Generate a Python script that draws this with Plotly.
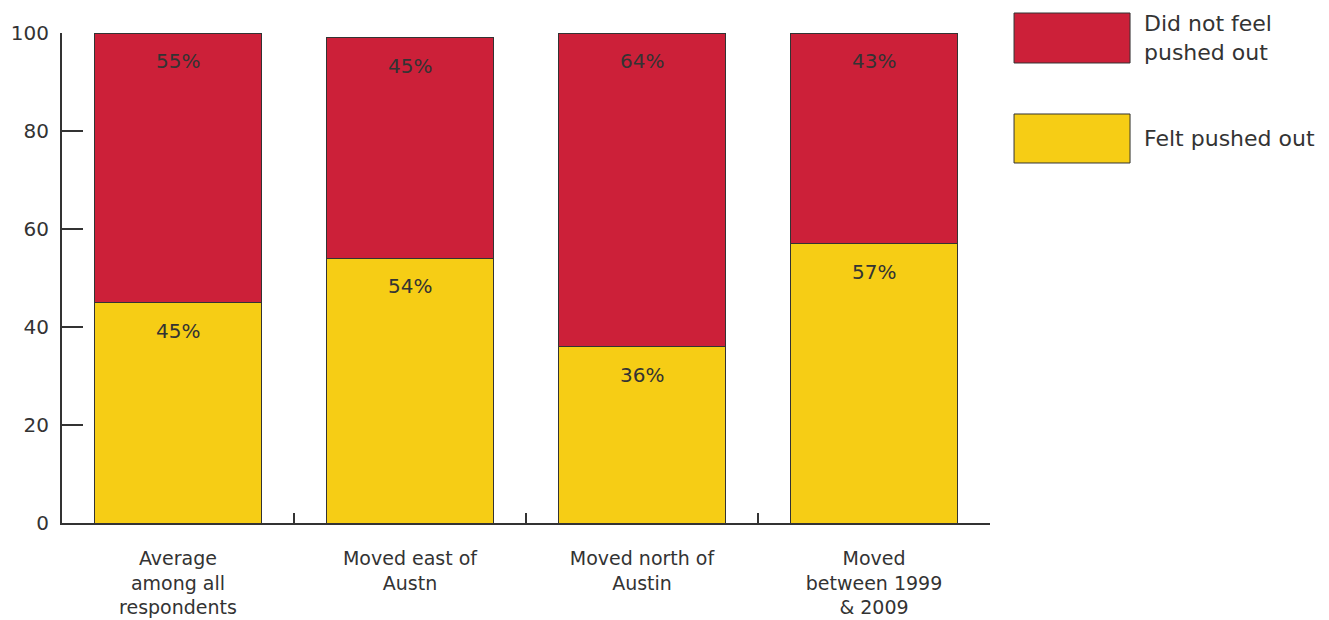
import plotly.graph_objects as go

categories = ["Average<br>among all<br>respondents", "Moved east of<br>Austn", "Moved north of<br>Austin", "Moved<br>between 1999<br>& 2009"]
felt_pushed_out = [45, 54, 36, 57]
did_not_feel = [55, 45, 64, 43]
series_names = ["Did not feel<br>pushed out", "Felt pushed out"]
y_ticks = [0, 20, 40, 60, 80, 100]

RED = "#CC2039"
YELLOW = "#F6CD15"
TXT = "#333333"
FONT = "DejaVu Sans"

fig = go.Figure()
fig.add_trace(go.Bar(x=categories, y=felt_pushed_out, marker=dict(color=YELLOW, line=dict(color="#333", width=1)),
                     name=series_names[1], showlegend=False))
fig.add_trace(go.Bar(x=categories, y=did_not_feel, marker=dict(color=RED, line=dict(color="#333", width=1)),
                     name=series_names[0], showlegend=False))

for c, f, d in zip(categories, felt_pushed_out, did_not_feel):
    fig.add_annotation(x=c, y=f, text=f"{f}%", showarrow=False, yshift=-28,
                       font=dict(size=20, color=TXT, family=FONT))
    fig.add_annotation(x=c, y=f + d, text=f"{d}%", showarrow=False, yshift=-28,
                       font=dict(size=20, color=TXT, family=FONT))

# legend (large swatches)
legend_items = [(RED, series_names[0], 1.0408, 0.9388), (YELLOW, series_names[1], 0.8347, 0.7347)]
for col, name, y1, y0 in legend_items:
    fig.add_shape(type="rect", xref="paper", yref="paper", x0=1.0259, x1=1.1509, y0=y0, y1=y1,
                  fillcolor=col, line=dict(color="#333", width=1))
    fig.add_annotation(xref="paper", yref="paper", x=1.1638, y=(y0 + y1) / 2, xanchor="left", yanchor="middle",
                       text=name, showarrow=False, align="left",
                       font=dict(size=22, color=TXT, family=FONT))

fig.update_layout(
    barmode="stack",
    bargap=0.28,
    width=1321, height=612,
    margin=dict(l=54, r=339, t=25, b=97, autoexpand=False),
    plot_bgcolor="white", paper_bgcolor="white",
    font=dict(family=FONT, color=TXT),
)
fig.update_xaxes(showline=True, linecolor="#333", linewidth=2, ticks="inside", ticklen=10, tickwidth=2,
                 tickcolor="#333", tickson="boundaries", tickfont=dict(size=19, color=TXT, family=FONT),
                 ticklabelstandoff=17, showgrid=False, automargin=False)
fig.update_yaxes(range=[0, 100], tickvals=y_ticks, showline=True, linecolor="#333", linewidth=2,
                 ticks="inside", ticklen=21, tickwidth=2, tickcolor="#333", showgrid=False, zeroline=False,
                 tickfont=dict(size=20, color=TXT, family=FONT), ticklabelstandoff=7, automargin=False)

fig.write_html("out.html")
